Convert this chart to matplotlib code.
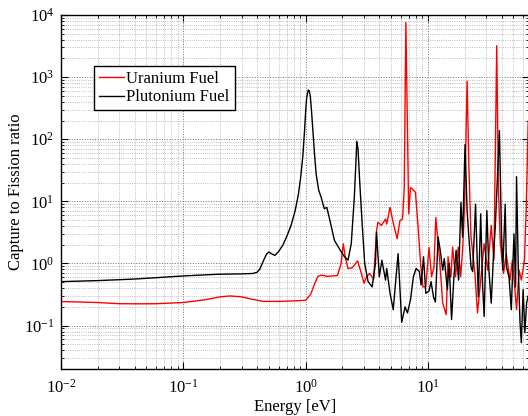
import matplotlib
matplotlib.use("Agg")
import matplotlib.pyplot as plt
from matplotlib.ticker import LogLocator, NullFormatter

plt.rcParams["font.family"] = ["Liberation Serif", "DejaVu Serif"]
plt.rcParams["mathtext.fontset"] = "stix"

# energies [eV] and capture/fission ratio
u_energy = [0.01, 0.02, 0.03, 0.045, 0.06, 0.1, 0.15, 0.2, 0.24, 0.3, 0.35, 0.45, 0.6, 0.8, 1.0,
            1.1, 1.2, 1.26, 1.35, 1.5, 1.82, 1.95, 2.03, 2.12, 2.22, 2.4, 2.66, 2.85, 3.0, 3.15, 3.33,
            3.6, 3.8, 3.9, 4.17, 4.5, 4.6, 4.9, 5.2, 5.6, 5.9, 6.2, 6.4, 6.6, 6.96, 7.2, 7.4, 7.9,
            8.3, 8.7, 9.1, 9.6, 10.2, 10.7, 11.2, 11.6, 12.4, 13.2, 14.1, 14.6, 15.4, 15.9, 16.8,
            17.7, 18.5, 19.2, 19.9, 20.9, 21.6, 22.5, 24.2, 25.4, 27.0, 28.8, 30.8, 32.9, 34.6,
            36.5, 37.7, 39.1, 41.5, 43.6, 46.9, 49.0, 51.2, 53.0, 55.6, 58.0, 61.5, 63.5, 66.0]
u_ratio = [0.244, 0.235, 0.225, 0.224, 0.225, 0.235, 0.26, 0.29, 0.30, 0.29, 0.27, 0.245, 0.245,
           0.25, 0.255, 0.32, 0.5, 0.62, 0.65, 0.62, 0.64, 1.0, 2.08, 1.2, 0.83, 0.85, 1.1, 0.7,
           0.48, 0.61, 0.69, 0.56, 3.4, 4.6, 4.1, 5.2, 4.3, 8.0, 4.5, 2.5, 4.9, 5.2, 16.6, 7600,
           6.3, 16.6, 16.0, 14.0, 4.0, 1.0, 0.42, 0.42, 1.8, 0.61, 0.88, 5.5, 1.28, 0.23, 0.15,
           1.28, 0.6, 1.84, 0.61, 1.84, 0.61, 1.63, 8.0, 860, 37, 2.66, 0.7, 0.16, 0.54, 2.08,
           0.78, 4.1, 1.13, 3200, 14.8, 2.08, 0.69, 1.44, 0.54, 1.13, 0.42, 0.18, 0.78, 0.54,
           1.13, 7.1, 195]

pu_energy = [0.01, 0.02, 0.039, 0.06, 0.1, 0.19, 0.3, 0.37, 0.4, 0.42, 0.44, 0.46, 0.48, 0.50,
             0.53, 0.56, 0.6, 0.65, 0.7, 0.76, 0.82, 0.87, 0.91, 0.95, 0.98, 1.0, 1.02, 1.05, 1.07,
             1.09, 1.11, 1.14, 1.18, 1.22, 1.28, 1.34, 1.42, 1.49, 1.58, 1.72, 1.92, 2.08, 2.22,
             2.36, 2.5, 2.58, 2.62, 2.68, 2.77, 2.9, 3.04, 3.24, 3.5, 3.72, 3.8, 4.0, 4.2, 4.5,
             4.6, 4.9, 5.2, 5.7, 6.1, 6.5, 6.8, 7.2, 7.6, 8.0, 8.5, 8.8, 9.2, 9.6, 10.2, 10.6,
             11.1, 11.5, 12.1, 12.6, 13.2, 13.6, 14.4, 14.9, 15.6, 16.3, 17.0, 17.8, 18.6, 19.2,
             20.1, 20.9, 21.6, 22.5, 23.2, 24.5, 25.8, 27.0, 28.0, 28.8, 30.3, 31.5, 32.9, 34.4,
             35.5, 38.4, 39.9, 40.9, 42.8, 43.8, 46.0, 48.0, 50.5, 52.0, 53.0, 54.8, 56.6, 58.0,
             60.0, 62.0, 64.0, 66.0]
pu_ratio = [0.51, 0.53, 0.56, 0.59, 0.63, 0.67, 0.68, 0.69, 0.72, 0.8, 0.98, 1.2, 1.42, 1.53,
            1.42, 1.35, 1.55, 1.96, 2.7, 4.1, 7.0, 12.5, 24, 55, 140, 280, 470, 620, 600, 500,
            340, 160, 60, 27, 15, 11.6, 7.6, 8.0, 4.9, 2.35, 1.63, 1.28, 1.13, 2.08, 11.6, 45, 93,
            70, 20, 4.3, 1.0, 0.51, 0.42, 1.0, 3.2, 0.61, 1.13, 0.54, 0.83, 0.33, 0.18, 1.44,
            0.113, 0.2, 0.16, 0.26, 0.61, 0.83, 0.74, 0.45, 1.28, 0.33, 0.36, 0.51, 0.29, 0.24,
            2.66, 1.63, 0.78, 1.2, 0.38, 1.0, 0.125, 0.61, 1.63, 0.54, 9.6, 2.66, 82, 7.1, 2.66,
            0.88, 0.74, 9.0, 0.29, 6.3, 0.42, 0.14, 7.1, 0.78, 0.23, 1.44, 3.8, 137, 3.0, 0.78,
            9.0, 0.88, 0.6, 0.18, 3.0, 0.42, 25, 0.78, 0.11, 0.053, 0.38, 0.077, 0.23, 0.3]

fig = plt.figure(figsize=(5.28, 4.16), dpi=100)
ax = fig.add_axes([61 / 528, 47 / 416, 468 / 528, 354 / 416])

ax.plot(u_energy, u_ratio, color="red", lw=1.0, label="Uranium Fuel")
ax.plot(pu_energy, pu_ratio, color="black", lw=1.0, label="Plutonium Fuel")

ax.set_xscale("log")
ax.set_yscale("log")
ax.set_xlim(0.01, 67)
ax.set_ylim(0.02, 1e4)

ax.xaxis.set_major_locator(LogLocator(base=10, numticks=20))
ax.xaxis.set_minor_locator(LogLocator(base=10, subs=range(2, 10), numticks=20))
ax.yaxis.set_major_locator(LogLocator(base=10, numticks=20))
ax.yaxis.set_minor_locator(LogLocator(base=10, subs=range(2, 10), numticks=20))
ax.xaxis.set_minor_formatter(NullFormatter())
ax.yaxis.set_minor_formatter(NullFormatter())

ax.grid(True, which="major", ls=":", color="#707070", lw=0.7)
ax.grid(True, which="minor", ls=":", color="#a8a8a8", lw=0.6)
ax.tick_params(which="both", direction="in", top=True, right=True, labelsize=12)
ax.tick_params(which="major", length=5, width=0.8)
ax.tick_params(which="minor", length=2.5, width=0.6)
ax.tick_params(axis="x", pad=7)
ax.tick_params(axis="y", pad=5)
for s in ax.spines.values():
    s.set_linewidth(1.0)

ax.set_xlabel("Energy [eV]", fontsize=12, labelpad=2)
ax.set_ylabel("Capture to Fission ratio", fontsize=12, labelpad=0)

leg = ax.legend(loc="upper left", bbox_to_anchor=(0.0705, 0.856), borderaxespad=0,
                fancybox=False, edgecolor="black", fontsize=12, handlelength=1.5,
                handletextpad=0.15, labelspacing=0.15, borderpad=0.3, framealpha=1)
leg.get_frame().set_linewidth(1.0)

fig.savefig("out.png", dpi=100)
